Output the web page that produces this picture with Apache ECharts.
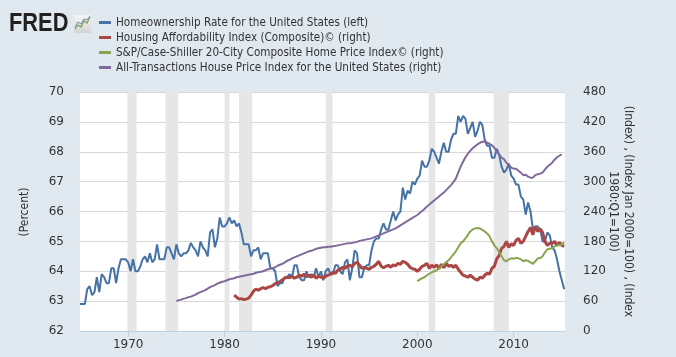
<!DOCTYPE html>
<html><head><meta charset="utf-8">
<script src="https://cdn.jsdelivr.net/npm/echarts@6/dist/echarts.min.js"></script>
<style>html,body{margin:0;padding:0;background:#E1E9F0;}#c{width:676px;height:357px;}</style>
</head><body><div id="c"></div>
<script>
// ---- data ----
var xTicks = [1970, 1980, 1990, 2000, 2010];
var leftTicks = [62, 63, 64, 65, 66, 67, 68, 69, 70];
var rightTicks = [0, 60, 120, 180, 240, 300, 360, 420, 480];
var seriesNames = [
  'Homeownership Rate for the United States (left)',
  'Housing Affordability Index (Composite)\u00A9 (right)',
  'S&P/Case-Shiller 20-City Composite Home Price Index\u00A9 (right)',
  'All-Transactions House Price Index for the United States (right)'
];
var leftAxisTitle = '(Percent)';
var rightAxisTitle = '(Index) , (Index Jan 2000=100) , (Index\n1980:Q1=100)';
// quarterly, starting 1965 Q1
var homeownStart = 1965.0;
var homeown = [
  62.9,62.9,62.9,63.4, 63.5,63.2,63.3,63.8, 63.3,63.9,63.8,63.6, 63.6,64.1,64.1,63.6,
  64.1,64.4,64.4,64.4, 64.3,64.0,64.4,64.0, 64.0,64.15,64.4,64.5, 64.3,64.6,64.3,64.4,
  64.9,64.4,64.4,64.4, 64.8,64.8,64.6,64.4, 64.9,64.6,64.5,64.6, 64.6,64.7,64.95,64.8,
  64.7,64.5,65.0,64.8, 64.7,64.5,65.3,65.4, 64.8,65.1,65.8,65.5, 65.5,65.6,65.8,65.6,
  65.7,65.5,65.6,65.3, 64.9,64.9,64.9,64.5, 64.7,64.7,64.8,64.4, 64.6,64.6,64.6,64.1,
  64.1,64.0,63.5,63.6, 63.6,63.8,63.8,63.9, 63.8,64.2,64.2,63.8, 63.7,63.7,64.0,63.8,
  63.9,63.8,64.1,63.8, 64.0,63.7,64.0,64.1, 63.9,63.9,64.2,64.2, 64.0,63.9,64.3,64.4,
  63.7,64.1,64.7,64.6, 63.8,63.8,64.1,64.2, 64.2,64.7,65.0,65.1, 65.1,65.4,65.6,65.4,
  65.4,65.7,66.0,65.7, 65.9,66.0,66.8,66.4, 66.7,66.6,67.0,66.9, 67.1,67.2,67.7,67.5,
  67.5,67.7,68.1,68.0, 67.8,67.6,68.0,68.3, 68.0,68.0,68.4,68.6, 68.6,69.2,69.0,69.2,
  69.1,68.6,68.8,69.0, 68.5,68.7,69.0,68.9, 68.4,68.2,68.2,67.8, 67.8,68.1,67.9,67.5,
  67.3,67.4,67.6,67.2, 67.1,66.9,66.9,66.5, 66.4,65.9,66.3,66.0, 65.4,65.5,65.5,65.4,
  65.0,65.0,65.3,65.2, 64.8,64.7,64.4,64.0, 63.7,63.4
];
// quarterly, starting 1981 Q1
var affordStart = 1981.0;
var afford = [
  72,68,64,65, 63,64,66,72, 80,84,82,85, 87,85,88,89, 91,95,97,99,
  103,106,108,107, 110,106,108,112, 110,114,109,112, 108,113,106,110,
  108,106,110,112, 114,118,116,122, 124,128,126,130, 132,129,136,138,
  132,126,128,126, 124,128,130,134, 140,130,127,130, 132,128,133,131,
  136,134,140,138, 134,128,125,124, 120,124,130,132, 136,126,132,128,
  133,125,134,127, 136,130,132,128, 132,124,118,112, 110,108,112,108,
  104,102,108,106, 112,116,114,126, 130,145,152,166, 170,180,168,175,
  172,182,186,176, 180,190,200,208, 193,210,200,205, 198,180,172,176,
  176,180,172,178, 172,170
];
// quarterly, starting 2000 Q1
var caseShillerStart = 2000.0;
var caseShiller = [
  100,103,106,108, 112,115,118,120, 122,125,130,134, 138,142,148,154,
  160,168,176,180, 186,193,200,204, 206,207,206,203, 200,196,190,180,
  172,166,158,150, 142,140,144,146, 145,147,146,144, 140,142,141,138,
  135,140,146,146, 150,158,164,165, 166,170,172,172, 174,178
];
// quarterly, starting 1975 Q1
var allTransStart = 1975.0;
var allTrans = [
  60,62,63,65, 66,68,69,71, 73,76,78,80, 82,85,88,90, 92,95,97,99,
  100,102,104,105, 106,108,109,110, 111,112,113,114, 115,117,118,119, 120,122,124,125,
  126,128,131,133, 135,138,141,143, 146,148,150,152, 154,156,158,160, 161,163,165,166,
  167,168,168,169, 169,170,171,172, 173,174,175,176, 176,177,178,179, 181,182,183,184,
  185,186,188,190, 192,194,196,198, 200,202,204,206, 209,212,215,218, 221,224,227,230,
  233,237,241,245, 250,254,258,262, 266,270,274,278, 283,288,293,299, 306,318,330,340,
  349,356,362,367, 371,375,378,380, 380,378,376,373, 368,360,354,348, 345,338,334,328,
  326,326,322,318, 313,314,310,308, 308,313,315,316, 318,324,330,334, 338,344,349,352,
  355
];
var recessions = [
  [1969.92, 1970.87], [1973.87, 1975.2], [1980.0, 1980.5], [1981.5, 1982.87],
  [1990.5, 1991.2], [2001.17, 2001.87], [2007.92, 2009.5]
];

function toPairs(start, arr) {
  return arr.map(function (v, i) { return [start + i * 0.25, v]; });
}

var FONT = 'DejaVu Sans Condensed, Liberation Sans, sans-serif';
var TXT = '#333333';
var chart = echarts.init(document.getElementById('c'), null, {renderer: 'canvas'});

function lineSeries(name, data, color, yIdx, width) {
  return {
    name: name, type: 'line', data: data, yAxisIndex: yIdx,
    showSymbol: false, symbol: 'none', smooth: false, z: 3,
    lineStyle: {color: color, width: width}, itemStyle: {color: color},
    emphasis: {disabled: true}, animation: false
  };
}

var option = {
  backgroundColor: '#E1E9F0',
  animation: false,
  textStyle: {fontFamily: FONT},
  grid: {left: 80, right: 111, top: 92, bottom: 26, show: true,
         backgroundColor: '#FFFFFF', borderWidth: 0, containLabel: false},
  legend: {
    orient: 'vertical', left: 94, top: 10, itemWidth: 12, itemHeight: 3,
    itemGap: 0, icon: 'rect', selectedMode: false,
    textStyle: {fontFamily: FONT, fontSize: 11.6, color: TXT, lineHeight: 15},
    data: seriesNames
  },
  xAxis: {
    type: 'value', min: 1965, max: 2015.33,
    axisLine: {show: true, lineStyle: {color: '#C0D0E0', width: 1}},
    axisTick: {show: true, length: 6, lineStyle: {color: '#C0D0E0'}, customValues: xTicks},
    axisLabel: {color: TXT, fontFamily: 'DejaVu Sans', fontSize: 12, margin: 8, customValues: xTicks,
                formatter: function (v) { return String(Math.round(v)); }},
    splitLine: {show: false}
  },
  yAxis: [
    {
      type: 'value', position: 'left', min: 62, max: 70, interval: 1,
      axisLine: {show: false}, axisTick: {show: false},
      axisLabel: {color: TXT, fontFamily: 'DejaVu Sans', fontSize: 12, margin: 16},
      splitLine: {show: true, lineStyle: {color: '#D8D8D8', width: 1}}
    },
    {
      type: 'value', position: 'right', min: 0, max: 480, interval: 60,
      axisLine: {show: false}, axisTick: {show: false},
      axisLabel: {color: TXT, fontFamily: 'DejaVu Sans', fontSize: 12, margin: 18},
      splitLine: {show: false}
    }
  ],
  graphic: [
    {type: 'text', x: 25, y: 212, rotation: Math.PI / 2, z: 10,
     style: {text: leftAxisTitle, fill: TXT, font: '12px ' + FONT, align: 'center', verticalAlign: 'middle'}},
    {type: 'text', x: 620.5, y: 211.5, rotation: -Math.PI / 2, z: 10,
     style: {text: rightAxisTitle, fill: TXT, font: '12px ' + FONT, lineHeight: 15,
             align: 'center', verticalAlign: 'middle'}},
    {type: 'text', left: 9, top: 11, z: 10,
     style: {text: 'FRED', fill: '#231F20', font: 'bold 26px "Liberation Sans", Arial, sans-serif'},
     scaleX: 0.84},
    {type: 'rect', shape: {x: 74, y: 15, width: 17, height: 18}, z: 10,
     style: {fill: new echarts.graphic.LinearGradient(0, 0, 0, 1,
       [{offset: 0, color: '#F4F4F4'}, {offset: 1, color: '#D4D4D4'}])}},
    {type: 'polyline', z: 11, shape: {points: [[75, 29], [78, 25], [81, 27], [84, 21], [87, 23], [90, 17]]},
     style: {stroke: '#7FA04A', lineWidth: 1.2, fill: null}},
    {type: 'polyline', z: 11, shape: {points: [[75, 27], [78, 22], [81, 24], [84, 19], [87, 20], [90, 16]]},
     style: {stroke: '#6B8FB8', lineWidth: 1, fill: null}}
  ],
  series: [
    {
      name: 'recessions', type: 'line', data: [], yAxisIndex: 0, z: 1, silent: true,
      markArea: {silent: true, itemStyle: {color: '#E6E6E6'},
        data: recessions.map(function (r) { return [{xAxis: r[0]}, {xAxis: r[1]}]; })}
    },
    lineSeries(seriesNames[0], toPairs(homeownStart, homeown), '#4572A7', 0, 2),
    lineSeries(seriesNames[1], toPairs(affordStart, afford), '#AA4643', 1, 3),
    lineSeries(seriesNames[2], toPairs(caseShillerStart, caseShiller), '#89A54E', 1, 2),
    lineSeries(seriesNames[3], toPairs(allTransStart, allTrans), '#80699B', 1, 2)
  ]
};
chart.setOption(option);
</script>
</body></html>
